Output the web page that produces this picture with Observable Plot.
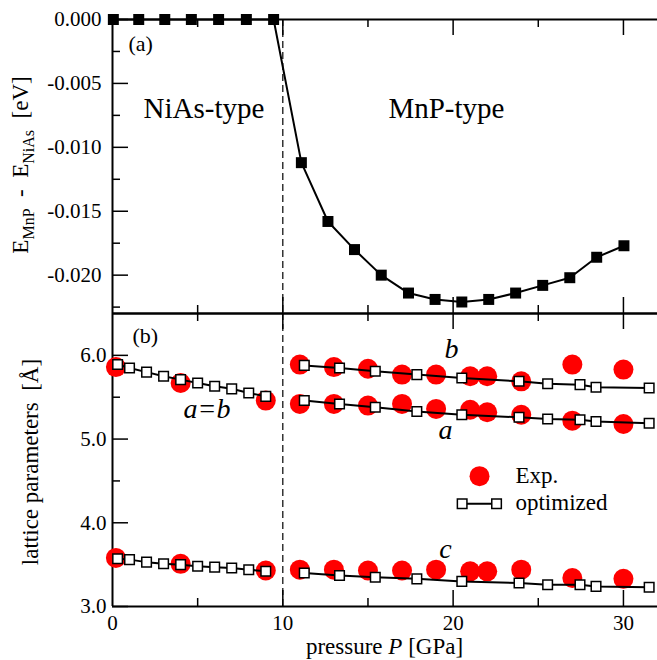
<!DOCTYPE html>
<html><head><meta charset="utf-8">
<script src="https://cdn.jsdelivr.net/npm/d3@7"></script>
<script src="https://cdn.jsdelivr.net/npm/@observablehq/plot@0.6"></script>
<style>
html,body{margin:0;padding:0;background:#fff;}
#chart{width:657px;height:660px;overflow:hidden;}
#chart svg{display:block;}
#chart svg text{font-family:'Liberation Serif','Times New Roman',serif;}
</style></head><body><div id="chart"></div>
<script>
// ---------- data: panel (a) energy difference ----------
const energyPressure = [0.05, 1.54, 3.07, 4.63, 6.23, 7.86, 9.46, 11.09, 12.65, 14.21, 15.78, 17.38, 18.94, 20.51, 22.09, 23.67, 25.26, 26.85, 28.43, 30.03];
const energyDiff = [0, 0, 0, 0, 0, 0, 0, -0.0112, -0.0158, -0.0180, -0.0200, -0.0214, -0.0219, -0.0221, -0.0219, -0.0214, -0.0208, -0.0202, -0.0186, -0.0177];

// ---------- data: panel (b) lattice parameters ----------
const expPressureNiAs = [0.2, 4.0, 9.0];
const expAbNiAs = [5.86, 5.67, 5.46];
const expCNiAs = [3.58, 3.51, 3.43];
const expPressureMnP = [11, 13, 15, 17, 19, 21, 22, 24, 27, 30];
const expBMnP = [5.89, 5.86, 5.84, 5.77, 5.77, 5.75, 5.75, 5.69, 5.89, 5.83];
const expAMnP = [5.42, 5.42, 5.40, 5.42, 5.36, 5.35, 5.32, 5.29, 5.22, 5.18];
const expCMnP = [3.44, 3.44, 3.43, 3.43, 3.44, 3.42, 3.42, 3.44, 3.34, 3.33];

const optPressureNiAs = [0.3, 1, 2, 3, 4, 5, 6, 7, 8, 9];
const optAbNiAs = [5.89, 5.85, 5.80, 5.75, 5.71, 5.67, 5.63, 5.60, 5.55, 5.51];
const optCNiAs = [3.57, 3.56, 3.53, 3.51, 3.50, 3.48, 3.47, 3.46, 3.44, 3.42];
const optPressureMnP = [11.26, 13.33, 15.43, 17.87, 20.51, 23.87, 25.55, 27.45, 28.39, 31.51];
const optBMnP = [5.88, 5.85, 5.81, 5.77, 5.73, 5.69, 5.66, 5.65, 5.62, 5.61];
const optAMnP = [5.46, 5.42, 5.38, 5.33, 5.29, 5.26, 5.24, 5.23, 5.21, 5.19];
const optCMnP = [3.40, 3.37, 3.35, 3.33, 3.30, 3.28, 3.26, 3.26, 3.24, 3.23];

// ---------- scales / ticks ----------
const transitionPressure = 10;
const xDomain = [0, 32];
const energyDomain = [-0.023, 0];
const latticeDomain = [3.0, 6.5];
const xTickLabels = [0, 10, 20, 30];
const xMajorTicks = [10, 20, 30];
const xMinorTicks = [5, 15, 25];
const energyMajorTicks = [0, -0.005, -0.010, -0.015, -0.020];
const energyMinorTicks = [-0.0025, -0.0075, -0.0125, -0.0175, -0.0225];
const latticeMajorTicks = [3, 4, 5, 6];
const latticeMinorTicks = [3.5, 4.5, 5.5];

// ---------- tables ----------
const energyRows = energyPressure.map((p, i) => ({p, e: energyDiff[i]}));
const zip = (ps, vs, series) => ps.map((p, i) => ({p, v: vs[i], series}));
const expRows = [
  ...zip(expPressureNiAs, expAbNiAs, "ab"), ...zip(expPressureNiAs, expCNiAs, "cN"),
  ...zip(expPressureMnP, expBMnP, "b"), ...zip(expPressureMnP, expAMnP, "a"), ...zip(expPressureMnP, expCMnP, "cM")
];
const optRows = [
  ...zip(optPressureNiAs, optAbNiAs, "ab"), ...zip(optPressureNiAs, optCNiAs, "cN"),
  ...zip(optPressureMnP, optBMnP, "b"), ...zip(optPressureMnP, optAMnP, "a"), ...zip(optPressureMnP, optCMnP, "cM")
];

const W = 657, ML = 112, MR = 0;
const frameW = W - ML - MR;
const FONT = "'Liberation Serif', 'Times New Roman', serif";
const SERIF = "Liberation Serif";

function frameMarks(frameH, yDomain, yMajor, yMinor) {
  const tk = {strokeWidth: 1.5, stroke: "black"};
  return [
    Plot.ruleX([transitionPressure], {stroke: "black", strokeWidth: 1.2, strokeDasharray: "7,4"}),
    Plot.tickX(xMajorTicks, {x: d => d, insetTop: frameH - 16, ...tk}),
    Plot.tickX(xMinorTicks, {x: d => d, insetTop: frameH - 8, ...tk}),
    Plot.tickX(xMajorTicks, {x: d => d, insetBottom: frameH - 16, ...tk}),
    Plot.tickX(xMinorTicks, {x: d => d, insetBottom: frameH - 8, ...tk}),
    Plot.tickY(yMajor, {y: d => d, insetRight: frameW - 16, ...tk}),
    Plot.tickY(yMinor, {y: d => d, insetRight: frameW - 8, ...tk}),
    Plot.ruleY(yDomain, {stroke: "black", strokeWidth: 2}),
    Plot.ruleX([xDomain[0]], {stroke: "black", strokeWidth: 2})
  ];
}
const txt = (extra) => ({textAnchor: "start", lineAnchor: "bottom", fill: "black", fontFamily: SERIF, ...extra});

const H1 = 313, MT1 = 19, MB1 = 0;
const topPlot = Plot.plot({
  width: W, height: H1, marginTop: MT1, marginBottom: MB1, marginLeft: ML, marginRight: MR,
  x: {domain: xDomain, axis: null, label: null},
  y: {domain: energyDomain, axis: null, label: null},
  style: {fontFamily: FONT, fontSize: "21px", background: "white", overflow: "visible", color: "black"},
  marks: [
    ...frameMarks(H1 - MT1 - MB1, energyDomain, energyMajorTicks, energyMinorTicks),
    Plot.axisY(energyMajorTicks, {anchor: "left", tickSize: 0, tickPadding: 11, tickFormat: d => d.toFixed(3), fontSize: 21, fontFamily: SERIF, label: null}),
    Plot.line(energyRows, {x: "p", y: "e", stroke: "black", strokeWidth: 2}),
    Plot.dot(energyRows, {x: "p", y: "e", symbol: "square", r: 6.2, fill: "black", stroke: "none"}),
    Plot.text(["(a)"], {x: 0.94, y: -0.00243, ...txt({fontSize: 22})}),
    Plot.text(["NiAs-type"], {x: 1.82, y: -0.00767, ...txt({fontSize: 29})}),
    Plot.text(["MnP-type"], {x: 16.2, y: -0.00767, ...txt({fontSize: 29})})
  ]
});

const H2 = 347, MT2 = 0, MB2 = 54;
const bottomPlot = Plot.plot({
  width: W, height: H2, marginTop: MT2, marginBottom: MB2, marginLeft: ML, marginRight: MR,
  x: {domain: xDomain, axis: null, label: null},
  y: {domain: latticeDomain, axis: null, label: null},
  style: {fontFamily: FONT, fontSize: "21px", background: "white", overflow: "visible", color: "black"},
  marks: [
    ...frameMarks(H2 - MT2 - MB2, latticeDomain, latticeMajorTicks, latticeMinorTicks),
    Plot.axisY(latticeMajorTicks, {anchor: "left", tickSize: 0, tickPadding: 6, tickFormat: d => d.toFixed(1), fontSize: 21, fontFamily: SERIF, label: null}),
    Plot.axisX(xTickLabels, {anchor: "bottom", tickSize: 0, tickPadding: 9, tickFormat: d => String(d), fontSize: 21, fontFamily: SERIF, label: null}),
    Plot.dot(expRows, {x: "p", y: "v", r: 10, fill: "#ff0000", stroke: "none"}),
    Plot.line(optRows, {x: "p", y: "v", z: "series", stroke: "black", strokeWidth: 2}),
    Plot.dot(optRows, {x: "p", y: "v", symbol: "square", r: 5.4, fill: "white", stroke: "black", strokeWidth: 1.5}),
    Plot.text(["(b)"], {x: 1.17, y: 6.15, ...txt({fontSize: 22})}),
    Plot.text(["a=b"], {x: 4.17, y: 5.25, ...txt({fontSize: 28, fontStyle: "italic"})}),
    Plot.text(["b"], {x: 19.9, y: 5.97, ...txt({textAnchor: "middle", fontSize: 28, fontStyle: "italic"})}),
    Plot.text(["a"], {x: 19.55, y: 5.0, ...txt({textAnchor: "middle", fontSize: 28, fontStyle: "italic"})}),
    Plot.text(["c"], {x: 19.55, y: 3.585, ...txt({textAnchor: "middle", fontSize: 28, fontStyle: "italic"})}),
    // legend
    Plot.dot(["Exp."], {x: 21.55, y: 4.557, r: 10, fill: "#ff0000"}),
    Plot.text(["Exp."], {x: 23.66, y: 4.47, ...txt({fontSize: 23})}),
    Plot.line([20.53, 22.55], {x: d => d, y: 4.227, stroke: "black", strokeWidth: 2}),
    Plot.dot([20.53, 22.55], {x: d => d, y: 4.227, symbol: "square", r: 5.4, fill: "white", stroke: "black", strokeWidth: 1.5}),
    Plot.text(["optimized"], {x: 23.66, y: 4.147, ...txt({fontSize: 23})})
  ]
});

// axis titles with sub/italic parts
const tTop = d3.select(topPlot).append("text")
  .attr("transform", "translate(28,165) rotate(-90)")
  .attr("text-anchor", "middle").attr("font-size", 23).attr("fill", "black")
  .attr("font-family", FONT).style("white-space", "pre");
tTop.append("tspan").text("E");
tTop.append("tspan").attr("dy", 6).attr("font-size", 16).text("MnP");
tTop.append("tspan").attr("dy", -6).text("  -  E");
tTop.append("tspan").attr("dy", 6).attr("font-size", 16).text("NiAs");
tTop.append("tspan").attr("dy", -6).text("  [eV]");

d3.select(bottomPlot).append("text")
  .attr("transform", `translate(38,${462 - H1}) rotate(-90)`)
  .attr("text-anchor", "middle").attr("font-size", 23).attr("fill", "black")
  .attr("font-family", FONT).style("white-space", "pre")
  .text("lattice parameters  [Å]");

const tX = d3.select(bottomPlot).append("text")
  .attr("transform", `translate(384.5,${654 - H1})`)
  .attr("text-anchor", "middle").attr("font-size", 23).attr("fill", "black")
  .attr("font-family", FONT).style("white-space", "pre");
tX.append("tspan").text("pressure ");
tX.append("tspan").attr("font-style", "italic").text("P");
tX.append("tspan").text(" [GPa]");

const chart = document.getElementById("chart");
chart.appendChild(topPlot);
chart.appendChild(bottomPlot);
</script>
</body></html>
